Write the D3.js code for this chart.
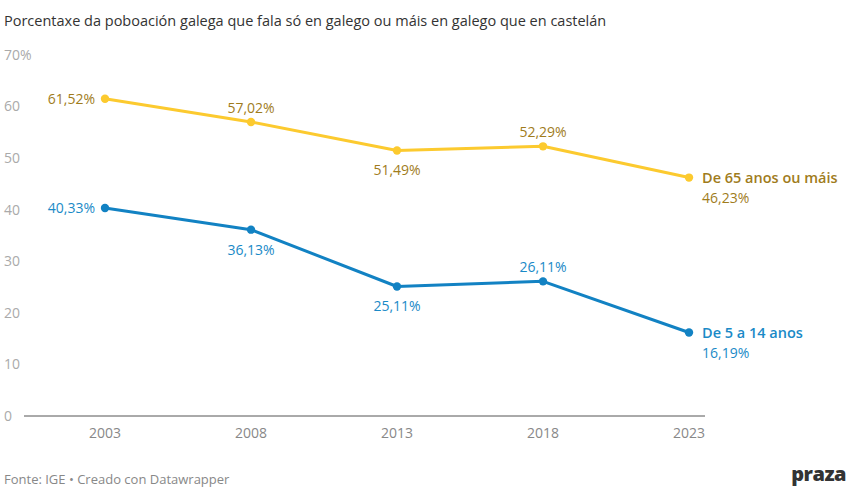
<!DOCTYPE html>
<html>
<head>
<meta charset="utf-8">
<script src="https://cdn.jsdelivr.net/npm/d3@7"></script>
<style>
  body { margin: 0; background: #fff; font-family: "Open Sans", "Noto Sans", sans-serif; }
  svg { display: block; }
</style>
</head>
<body>
<div id="chart"></div>
<script>
const years = [2003, 2008, 2013, 2018, 2023];
const older = [61.52, 57.02, 51.49, 52.29, 46.23];
const young = [40.33, 36.13, 25.11, 26.11, 16.19];
const yTicks = [0, 10, 20, 30, 40, 50, 60, 70];
// label placement for each point: left, above, below
const olderPos = ["left", "above", "below", "above", "right"];
const youngPos = ["left", "below", "below", "above", "right"];

const series = [
  {name: "De 65 anos ou máis", values: older, pos: olderPos, line: "#fcca2f", text: "#a07c1c"},
  {name: "De 5 a 14 anos", values: young, pos: youngPos, line: "#1282c3", text: "#1a8ac7"}
];

const width = 850, height = 500;
const svg = d3.select("#chart").append("svg").attr("width", width).attr("height", height);

const x = d3.scalePoint().domain(years).range([105, 689]);
const y = d3.scaleLinear().domain([0, 70]).range([416, 55]);

svg.append("text")
  .attr("x", 4).attr("y", 26)
  .attr("fill", "#333").attr("font-size", 14.5)
  .text("Porcentaxe da poboación galega que fala só en galego ou máis en galego que en castelán");

// y axis labels
svg.append("g").selectAll("text").data(yTicks).join("text")
  .attr("x", 4)
  .attr("y", (d) => y(d))
  .attr("dy", "0.35em")
  .attr("fill", "#aaa").attr("font-size", 14)
  .text((d) => d === 70 ? "70%" : d);

// baseline
svg.append("line")
  .attr("x1", 24).attr("x2", 705)
  .attr("y1", y(0)).attr("y2", y(0))
  .attr("stroke", "#555").attr("stroke-width", 1);

// x axis labels
svg.append("g").selectAll("text").data(years).join("text")
  .attr("x", (d) => x(d))
  .attr("y", 438)
  .attr("text-anchor", "middle")
  .attr("fill", "#888").attr("font-size", 14)
  .text((d) => d);

const fmt = (v) => d3.format(".2f")(v).replace(".", ",") + "%";
const line = d3.line().x((d, i) => x(years[i])).y((d) => y(d));

series.forEach((s) => {
  const g = svg.append("g");
  g.append("path")
    .datum(s.values)
    .attr("d", line)
    .attr("fill", "none")
    .attr("stroke", s.line)
    .attr("stroke-width", 3)
    .attr("stroke-linejoin", "round");

  g.selectAll("circle").data(s.values).join("circle")
    .attr("cx", (d, i) => x(years[i]))
    .attr("cy", (d) => y(d))
    .attr("r", 4.2)
    .attr("fill", s.line);

  g.selectAll("text.val").data(s.values).join("text")
    .attr("class", "val")
    .attr("x", (d, i) => {
      const p = s.pos[i];
      if (p === "left") return x(years[i]) - 10;
      if (p === "right") return x(years[i]) + 13;
      return x(years[i]);
    })
    .attr("y", (d, i) => {
      const p = s.pos[i];
      if (p === "above") return y(d) - 14;
      if (p === "below") return y(d) + 20;
      if (p === "right") return y(d) + 21;
      return y(d);
    })
    .attr("dy", "0.35em")
    .attr("text-anchor", (d, i) => s.pos[i] === "left" ? "end" : s.pos[i] === "right" ? "start" : "middle")
    .attr("fill", s.text).attr("font-size", 14)
    .text((d) => fmt(d));

  const last = s.values.length - 1;
  g.append("text")
    .attr("x", x(years[last]) + 13)
    .attr("y", y(s.values[last]))
    .attr("dy", "0.35em")
    .attr("fill", s.text).attr("font-size", 14.5).attr("font-weight", 600)
    .text(s.name);
});

svg.append("text")
  .attr("x", 4).attr("y", 484)
  .attr("fill", "#888").attr("font-size", 13)
  .text("Fonte: IGE • Creado con Datawrapper");

svg.append("text")
  .attr("x", 846).attr("y", 481)
  .attr("text-anchor", "end")
  .attr("fill", "#333").attr("font-size", 20).attr("font-weight", 800)
  .attr("letter-spacing", -0.5)
  .text("praza");
</script>
</body>
</html>
